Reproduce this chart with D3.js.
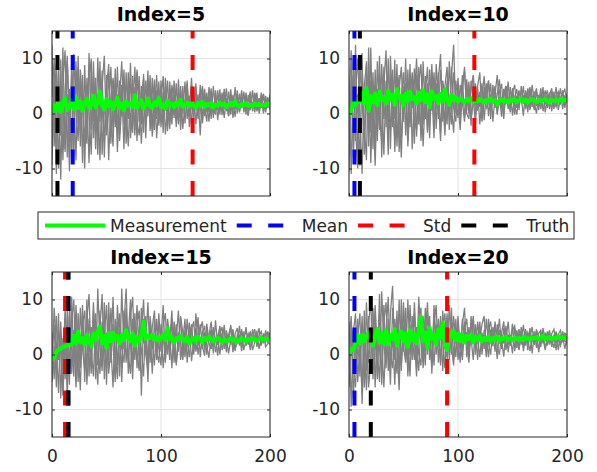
<!DOCTYPE html>
<html>
<head>
<meta charset="utf-8">
<script src="https://cdn.jsdelivr.net/npm/d3@7"></script>
<style>
  html, body { margin: 0; padding: 0; background: #fff; }
  svg { display: block; font-family: "DejaVu Sans", sans-serif; }
</style>
</head>
<body>
<svg id="chart" width="597" height="472"></svg>
<script>
// ---- Data -------------------------------------------------------------
// Samples are taken every 2 steps from 0 to 200.
const titles = ["Index=5", "Index=10", "Index=15", "Index=20"];
const meanAt  = [19, 5, 15, 5];
const stdAt   = [129, 115, 12, 90];
const truthAt = [5, 10, 15, 20];
const legendLabels = ["Measurement", "Mean", "Std", "Truth"];
const xTicks = [0, 100, 200];
const yTicks = [-10, 0, 10];

const measurement5 = [0.0,1.5,0.5,2.0,0.3,1.8,2.8,0.6,1.2,2.5, 0.8,3.0,1.0,2.2,0.5,1.9,2.7,0.9,1.6,3.2,
  1.1,2.0,4.0,1.5,0.7,2.6,1.3,2.1,0.8,1.7, 2.9,1.0,1.8,0.6,2.2,1.4,1.9,1.2,3.3,1.0,
  1.7,2.4,0.9,1.6,2.7,1.3,1.0,2.1,1.5,2.8, 1.2,1.7,0.9,2.3,1.4,1.8,1.1,2.0,1.5,2.5,
  1.2,1.6,2.0,1.3,1.8,1.5,1.0,1.9,1.4,2.1, 1.2,1.7,1.5,1.9,1.1,1.6,1.4,2.0,1.5,1.8,
  1.2,1.6,1.9,1.4,2.2,1.5,1.3,1.7,1.5,1.9, 1.4,1.6,1.3,1.8,1.5,1.7,1.4,1.6,1.5,1.8, 1.6];
const runs5 = [
  [12.5,-6.0,8.2,-3.5,9.8,-8.5,4.0,10.5,-5.2,7.0, -7.8,9.5,-2.0,6.5,-9.0,8.8,-4.5,11.0,-3.0,5.5,
   -6.5,10.2,-1.5,7.8,-8.0,4.5,9.0,-5.5,6.0,-2.5, 8.5,-4.0,5.2,-6.5,7.5,-1.0,9.2,-3.5,4.8,-5.0,
   6.8,-2.0,7.2,-4.5,5.5,-1.5,6.5,-3.0,4.2,-2.2, 6.0,-1.0,4.8,-3.2,5.8,0.0,4.5,-2.5,6.2,-0.8,
   5.0,-1.8,4.0,0.5,6.5,-1.2,3.8,-0.5,5.2,-1.5, 4.5,0.2,3.5,-1.0,5.0,0.5,4.2,-0.2,3.8,0.8,
   4.6,-0.5,3.2,0.5,4.8,0.0,3.6,1.0,4.0,-0.2, 3.4,0.6,4.2,0.2,3.0,0.8,3.8,0.4,3.2,1.0, 3.5],
  [-9.5,7.5,-11.0,5.5,-4.0,12.0,-7.0,3.5,-10.5,9.0, 2.0,-8.5,10.5,-3.5,7.0,-6.0,3.0,-9.0,8.0,-1.5,
   6.5,-4.5,9.5,-7.5,2.5,-3.0,7.5,-1.0,-6.0,8.2, -3.5,6.0,-0.5,8.0,-5.5,4.0,-2.5,6.8,-4.0,7.5,
   -1.5,5.0,-3.5,6.0,-0.5,7.0,-2.8,4.5,-1.0,5.8, -2.5,4.0,0.5,6.0,-1.8,3.5,-0.8,5.5,-2.0,4.2,
   0.0,5.8,-1.0,3.2,-2.2,4.8,0.8,3.5,-4.0,4.4, -0.5,3.8,0.2,4.6,-0.8,3.2,0.6,4.4,-0.3,3.6,
   0.4,4.0,-0.2,3.4,0.8,4.2,0.2,3.0,0.6,3.8, 0.0,3.2,0.8,3.6,0.4,2.8,1.0,3.4,0.2,3.0, 0.6],
  [3.0,10.0,-5.5,8.5,-12.0,6.0,11.5,-8.0,4.5,-6.5, 10.8,0.5,-5.0,8.0,1.5,-10.0,6.5,0.0,-7.5,9.5,
   -2.0,3.5,-8.5,5.0,10.5,-4.0,0.5,8.5,-3.5,5.5, -7.0,3.0,9.5,-2.0,1.0,-6.0,5.5,2.0,-3.0,8.0,
   2.5,-5.5,3.8,0.5,7.8,-3.2,1.5,6.2,-4.5,2.0, 5.0,-3.5,6.5,1.0,-2.8,5.2,2.0,-1.5,3.8,-3.0,
   3.0,1.5,6.0,-2.5,2.2,0.0,5.5,-1.0,2.5,5.0, 1.2,-1.5,4.8,2.0,0.0,4.2,-1.2,2.8,1.5,4.5,
   1.8,-0.5,3.6,2.2,-0.6,3.0,1.5,4.2,0.2,2.6, 2.2,4.0,0.4,2.4,3.8,0.0,2.0,3.6,0.6,2.4, 1.8],
  [-4.0,2.5,9.0,-10.0,5.0,1.0,-6.5,9.5,0.0,-8.0, 5.0,3.5,8.5,-6.0,4.0,2.5,-5.5,6.0,10.0,-4.5,
   1.5,-7.5,4.0,1.0,-5.0,7.0,-8.5,2.5,6.5,-1.5, 3.5,-5.0,1.5,6.5,-2.5,7.5,-4.5,0.5,8.5,-1.5,
   -4.0,3.0,6.5,-2.0,2.0,4.8,-4.2,0.5,7.0,-1.8, 2.5,6.8,-3.8,1.0,4.0,-2.0,6.0,0.8,-1.5,5.0,
   -2.8,2.0,5.2,-0.5,1.5,4.0,-2.0,3.0,1.0,-1.8, 3.2,2.0,-1.5,4.0,1.0,-0.2,3.5,1.8,2.5,-0.8,
   2.8,1.2,4.4,-0.8,2.0,3.2,0.4,1.8,3.4,1.0, -0.4,2.6,1.4,3.8,0.6,2.2,3.0,0.0,2.8,1.4, 2.6]
];

const measurement10 = [-0.5,0.8,2.0,1.5,2.6,2.2,3.8,1.8,4.6,0.5, 3.2,2.0,3.6,1.5,4.0,2.4,3.0,1.8,4.2,2.5,
  3.4,1.6,4.4,2.8,3.2,1.5,3.6,2.2,4.0,2.6, 3.0,1.8,3.8,2.4,4.2,2.0,3.5,1.2,4.0,2.6,
  3.2,1.8,3.6,2.2,4.4,2.5,1.6,3.4,2.4,3.0, 2.2,2.7,2.4,2.0,2.6,2.3,2.8,2.1,2.5,2.2,
  2.6,2.3,2.0,2.5,2.2,2.7,2.1,2.4,1.6,2.3, 2.6,2.2,2.4,2.0,2.5,2.3,2.6,2.1,2.4,2.7,
  2.2,2.5,2.0,2.4,2.6,2.3,2.1,2.5,2.2,2.4, 2.6,2.2,2.0,2.5,2.3,2.4,2.2,2.6,2.3,2.5, 2.4];
const runs10 = [
  [-10.5,8.0,-6.0,12.5,-9.0,6.5,11.0,-7.5,9.5,-4.0, 12.0,-6.5,8.0,-3.0,10.5,-8.0,5.5,11.5,-4.5,7.0,
   -2.5,9.8,-6.0,4.5,8.5,-1.5,10.0,-5.0,6.0,1.0, 8.2,-4.2,5.5,9.0,-2.0,6.8,-3.5,8.0,0.5,7.5,
   -2.8,6.2,10.8,-1.5,5.0,8.5,-3.0,7.0,12.5,0.0, 6.5,-1.5,5.5,7.8,0.5,4.5,-2.2,6.8,1.5,5.0,
   7.5,-0.5,4.8,2.0,6.0,-1.0,5.2,1.0,3.5,6.2, 0.8,4.5,1.8,5.8,0.2,3.8,5.2,1.0,4.2,2.0,
   5.0,0.8,3.6,4.8,1.2,3.0,4.6,0.6,3.8,2.4, 4.2,1.0,3.4,4.6,0.8,3.2,4.0,1.6,3.6,4.4, 2.0],
  [6.0,-11.0,10.0,-5.0,3.5,-9.5,8.5,-2.0,-8.5,12.0, -3.5,7.5,-7.0,9.5,0.5,-5.5,8.5,-2.5,10.0,-6.5,
   6.5,-1.0,9.0,-7.0,3.0,7.5,-4.0,8.0,-2.5,5.5, -5.5,7.0,1.0,-3.0,9.5,-1.0,5.5,-4.5,7.5,2.0,
   5.5,-1.0,8.0,2.5,-4.0,6.0,1.5,-2.0,7.5,3.0, -0.8,5.2,2.0,-1.5,6.2,0.0,4.5,7.0,-0.5,3.8,
   1.2,5.5,-1.2,3.8,6.0,0.5,2.8,5.0,-0.2,4.0, 5.4,0.0,3.2,1.4,4.8,-0.4,3.0,4.4,0.6,5.0,
   1.8,3.8,0.2,4.4,2.6,0.6,4.0,2.0,4.6,0.4, 3.0,4.2,1.2,3.6,2.2,4.8,0.6,2.8,3.8,1.0, 3.6],
  [2.0,11.5,-8.0,4.0,10.0,0.0,-11.0,5.0,9.0,-6.0, 6.0,1.5,-9.5,4.5,-3.0,9.0,-1.0,3.5,-7.5,10.5,
   1.0,-4.5,6.5,0.5,-8.0,5.0,2.0,-3.5,9.0,-6.5, 3.0,10.0,-2.0,4.5,-6.0,3.5,8.5,-1.5,4.0,-4.5,
   9.0,2.5,-5.0,6.0,3.0,-2.0,9.5,1.0,-3.5,6.0, 2.2,-3.0,4.0,8.5,0.0,-1.0,6.0,2.5,-1.8,4.8,
   -2.0,3.0,6.8,0.8,2.0,5.5,-1.5,3.5,7.0,1.5, 3.0,-1.0,5.0,2.6,0.4,4.6,1.4,-0.2,4.0,2.8,
   -0.4,4.2,2.4,1.0,5.2,2.0,0.0,3.4,1.6,4.8, 0.2,2.6,3.8,0.4,4.0,1.8,2.4,4.6,0.8,3.2, 2.6],
  [-5.0,3.0,7.0,-3.0,-10.0,9.5,2.0,-4.5,1.5,7.0, -9.0,4.5,2.0,-5.0,7.0,3.5,-7.5,6.0,1.5,-3.0,
   8.0,-7.0,2.5,7.0,-4.5,1.0,5.5,-6.0,2.5,7.5, -1.0,-3.0,8.5,-5.0,2.0,5.5,-3.0,1.5,9.0,-1.0,
   1.0,7.5,-3.5,4.0,-1.5,5.5,-0.5,8.5,1.0,-1.5, 4.5,0.5,7.0,-0.8,3.0,5.8,-1.0,2.0,5.5,0.5,
   4.0,-1.5,2.5,5.5,-0.5,3.5,1.8,4.5,0.0,3.0, -0.6,3.6,5.0,0.8,2.4,4.2,-0.2,3.2,1.6,3.8,
   3.2,1.0,4.6,0.6,2.8,4.0,1.4,3.0,0.8,3.6, 1.6,3.4,0.8,4.0,2.0,1.2,3.6,2.2,4.2,1.4, 3.0]
];

const measurement15 = [-1.0,-0.6,0.5,0.8,1.0,1.4,1.5,1.6,2.8,1.8, 3.4,2.0,4.2,2.2,3.0,1.8,3.6,2.5,1.5,3.8,
  2.6,4.2,5.0,2.0,3.4,1.2,3.8,2.4,4.0,2.8, 3.4,2.0,3.6,2.6,4.4,3.0,2.4,3.8,1.6,3.2,
  2.4,3.6,6.0,2.8,3.4,3.0,3.6,2.6,3.2,2.5, 3.0,3.6,2.6,4.8,2.8,3.2,2.2,3.0,2.6,3.4,
  2.8,2.4,3.2,2.0,2.6,3.0,2.4,3.2,2.8,2.2, 3.0,2.6,3.2,2.8,2.4,2.8,3.0,2.6,2.2,2.8,
  2.4,2.6,3.0,2.5,2.8,2.2,2.6,3.0,2.7,2.4, 2.8,2.6,3.0,2.7,2.5,2.8,3.0,2.6,2.9,2.7, 2.8];
const runs15 = [
  [0.0,5.5,-6.0,7.5,-8.0,3.0,-4.5,8.0,-2.5,6.0, 10.0,-3.5,7.5,-1.0,9.0,-5.0,6.5,11.0,-2.0,8.0,
   -4.5,12.0,1.5,-3.0,9.5,-5.5,7.0,0.5,10.5,-2.5, 6.0,-4.0,12.0,1.0,8.5,-3.5,7.0,10.5,-1.0,5.5,
   8.0,-7.5,6.5,2.0,9.5,-1.5,5.0,8.0,-0.5,6.0, 3.0,9.0,-1.0,6.5,2.5,8.0,-1.5,5.5,0.5,7.0,
   4.0,-0.5,6.5,2.0,5.0,0.0,7.5,1.5,4.5,6.0, 0.8,5.6,2.4,4.6,0.2,6.2,1.8,3.8,5.0,1.0,
   4.4,2.2,5.4,0.8,3.8,4.8,1.6,4.2,2.6,5.0, 1.8,4.0,3.0,4.6,1.4,3.6,4.2,2.0,4.4,2.8, 4.0],
  [-2.5,8.5,2.0,-7.0,6.0,-3.0,8.5,0.5,-5.5,10.5, -1.5,6.0,-5.0,8.5,1.0,-3.0,10.0,-4.0,5.0,2.0,
   7.5,-2.0,5.0,11.0,-4.5,4.0,-1.0,8.5,2.0,-5.0, 9.0,2.5,-2.5,5.5,12.0,0.0,-3.5,6.5,2.0,9.0,
   -1.5,4.0,10.0,0.0,-3.0,7.0,2.5,-2.0,6.5,1.0, -2.0,5.5,7.5,0.0,4.0,-2.5,6.0,3.0,8.0,-1.0,
   2.5,6.5,-1.5,3.5,5.5,0.5,3.0,6.8,-0.5,4.0, 5.2,0.0,3.4,6.0,1.2,3.0,-0.2,4.8,2.2,5.4,
   1.0,3.6,5.0,0.4,3.2,2.0,5.2,1.2,3.4,4.0, 3.2,0.8,4.6,2.4,3.0,4.8,1.6,3.4,2.2,4.2, 2.6],
  [4.0,-4.5,7.0,-1.0,2.5,-6.5,5.5,-8.0,9.0,-3.5, 4.5,-6.0,2.5,-2.5,5.5,8.0,-5.5,3.0,-3.5,9.5,
   0.0,-5.5,8.0,-2.0,3.5,9.0,-3.5,1.5,-6.0,6.5, -2.0,4.5,-5.0,8.0,-1.5,5.0,2.0,-4.5,7.5,-2.5,
   5.0,1.0,-4.0,7.0,-2.0,4.5,-3.5,6.5,0.5,-1.5, 5.5,-2.5,2.0,4.5,-1.0,6.5,0.5,-1.5,4.0,2.0,
   -1.0,3.5,1.5,5.8,-1.2,2.5,4.8,0.0,3.0,1.0, 4.0,1.6,-0.6,3.6,4.4,0.4,2.8,5.2,0.8,2.6,
   3.2,0.2,2.6,4.6,1.0,2.4,3.6,0.6,4.2,1.6, 2.8,4.2,0.8,2.2,3.8,1.2,2.6,3.6,1.4,2.0, 3.4],
  [-5.0,1.5,-3.0,4.5,1.0,-7.5,2.0,-1.5,7.0,1.0, -4.0,9.0,1.5,-6.5,7.0,2.5,-2.0,6.5,1.0,-4.0,
   6.0,2.5,-3.5,6.0,1.0,-2.5,9.5,-1.5,5.5,0.5, -4.5,7.5,1.0,-1.5,6.0,3.5,10.0,-2.0,4.0,0.0,
   -3.0,8.5,2.0,4.5,-5.0,6.0,1.0,3.5,-1.0,7.5, 0.5,3.5,-1.5,6.0,1.0,3.0,5.0,-2.0,2.5,6.5,
   0.0,4.5,2.5,-0.5,4.5,6.0,0.5,3.0,5.5,1.5, -0.2,4.4,2.0,1.0,5.0,2.4,3.6,0.0,3.8,4.6,
   0.4,3.0,1.8,4.4,0.6,3.6,2.8,4.6,0.8,2.8, 3.8,1.4,2.2,3.4,4.2,1.0,3.2,2.4,4.0,2.2, 1.8]
];

const measurement20 = [0.2,1.0,0.8,2.0,3.5,2.0,3.6,2.4,3.2,4.0, 2.6,1.6,3.4,4.6,2.2,3.8,2.0,4.4,1.8,3.6,
  2.8,4.6,1.6,3.4,4.2,2.4,3.8,1.4,4.4,2.6, 3.8,2.0,4.2,6.8,2.4,4.0,1.2,4.8,2.8,3.6,
  1.8,4.6,3.0,5.8,2.2,0.8,4.0,3.2,4.2,2.6, 3.8,2.4,3.6,2.2,3.4,2.8,3.6,2.2,3.2,2.6,
  3.4,2.4,3.0,2.6,3.2,2.4,3.0,2.7,3.3,2.5, 3.0,2.8,3.2,2.6,3.0,2.7,3.1,2.8,3.0,2.6,
  3.2,2.8,3.0,2.7,3.1,2.9,3.2,2.7,3.0,3.4, 2.8,3.0,3.2,2.8,3.1,2.9,3.3,2.9,3.1,3.0, 3.0];
const runs20 = [
  [6.0,-9.5,4.0,7.5,-5.0,2.0,-7.0,8.0,-3.0,5.5, 10.0,-4.5,7.0,-2.0,11.0,-5.5,6.0,9.5,-3.0,7.5,
   12.5,-1.0,8.0,-4.5,10.0,0.5,6.5,-3.0,9.0,1.5, 7.5,-2.5,10.5,3.0,-1.5,8.5,0.0,7.0,-3.5,9.0,
   2.0,6.5,-2.0,8.0,1.0,7.5,-1.0,6.0,3.5,-0.5, 7.0,1.0,5.5,8.5,-0.5,5.0,2.0,7.0,0.0,6.0,
   2.5,5.5,7.0,0.5,4.5,6.0,1.5,5.0,3.0,6.5, 1.0,4.8,2.4,6.0,1.6,4.4,5.2,1.2,4.0,2.6,
   5.4,1.6,4.0,3.0,5.0,1.8,4.4,3.2,1.4,4.8, 2.4,4.2,1.8,3.8,4.6,2.0,3.6,4.4,2.2,3.8, 3.6],
  [-3.0,5.5,-8.0,1.0,6.5,-4.0,7.0,-6.0,9.5,-1.5, 3.5,8.5,-6.0,5.0,1.0,-4.0,9.0,-1.5,4.0,-5.5,
   8.5,2.0,-3.5,10.0,-2.0,4.5,8.5,-4.0,5.5,-1.0, 9.5,1.0,-3.0,6.0,4.0,-2.0,7.5,2.5,-1.5,5.5,
   9.0,-1.5,4.5,2.0,-2.5,6.5,2.0,8.5,-1.0,5.0, 3.0,-1.5,6.5,2.5,4.0,-0.5,7.0,2.5,5.0,-1.0,
   5.0,1.5,3.5,-0.5,6.5,2.0,4.0,0.5,5.5,2.0, 4.0,6.0,0.8,3.6,2.2,5.6,0.6,3.2,4.6,1.8,
   3.0,4.6,0.8,3.6,2.4,4.2,1.2,3.8,4.4,2.0, 4.0,1.6,3.4,2.6,1.2,3.8,2.6,1.6,4.2,2.4, 2.2],
  [2.0,7.0,-2.5,-6.0,3.5,7.5,-9.0,2.5,4.0,-6.0, -1.0,6.0,3.0,-4.5,7.5,2.5,-6.0,4.0,10.5,-2.0,
   3.5,-5.5,6.0,4.0,-3.0,9.5,-1.0,3.0,-4.0,7.0, 2.5,-4.0,6.5,8.5,-2.5,3.5,9.5,-1.0,4.0,-2.0,
   5.5,1.5,7.0,-3.0,4.0,-0.5,9.0,1.5,-2.0,6.5, -1.0,4.0,0.5,6.0,2.0,-1.5,4.5,6.5,0.5,3.0,
   -0.5,4.0,1.0,6.5,2.0,0.0,5.0,3.5,-0.8,4.5, 2.6,-0.4,4.4,1.8,3.0,0.2,4.8,2.4,1.0,5.0,
   0.6,3.4,2.0,4.8,0.2,3.6,2.6,1.0,4.0,3.0, 0.8,3.2,4.4,1.4,3.0,4.2,0.8,3.4,2.6,4.0, 1.8],
  [-6.0,1.5,4.5,-3.0,1.0,-1.5,5.5,1.0,-6.5,7.0, -3.5,1.0,9.0,0.5,-5.0,11.5,2.0,-2.5,6.5,0.0,
   -2.5,6.5,1.5,-6.5,7.0,1.5,-1.5,10.0,0.0,3.5, -1.0,5.0,0.0,-2.0,7.0,0.5,4.5,5.0,-2.5,7.5,
   0.0,3.5,-1.5,5.0,7.5,-1.0,4.5,0.0,7.0,2.0, 5.0,2.5,-1.0,4.5,6.5,1.0,3.0,-1.0,5.5,2.5,
   6.0,0.0,4.5,3.0,-0.5,4.5,2.5,6.0,1.5,0.0, 3.8,2.0,5.2,0.4,3.4,2.8,1.2,4.4,0.8,3.6,
   1.4,4.4,2.6,0.6,3.6,1.8,4.6,0.4,2.6,3.6, 1.2,2.8,4.0,1.8,3.6,0.8,3.8,1.8,3.4,1.0, 3.2]
];

const measurements = [measurement5, measurement10, measurement15, measurement20];
const runs = [runs5, runs10, runs15, runs20];
const sampleStep = 2;

// ---- Layout -------------------------------------------------------------
const svg = d3.select("#chart");
const W = 218, H = 165;
const colLeft = [52, 349];
const rowTop = [31, 272];
const titleBaseline = [21, 264];
const axisColor = "#262626";
const fontSize = 17;

const x = d3.scaleLinear().domain([0, 200]).range([0, W]);
const y = d3.scaleLinear().domain([-15, 15]).range([H, 0]);

// plain hyphen for negative tick labels
const tickText = d => String(d);

const trace = d3.line()
  .x((d, k) => x(k * sampleStep))
  .y(d => y(d));

const markers = [
  { values: meanAt,  color: "#0000ff" },
  { values: stdAt,   color: "#ff0000" },
  { values: truthAt, color: "#000000" }
];
const dash = "15,16.5";

svg.append("defs").append("clipPath").attr("id", "plotArea")
  .append("rect").attr("x", 0).attr("y", 0).attr("width", W).attr("height", H);

titles.forEach((title, i) => {
  const col = i % 2, row = Math.floor(i / 2);
  const g = svg.append("g")
    .attr("transform", `translate(${colLeft[col]},${rowTop[row]})`);

  // grid
  g.append("g").selectAll("line").data(xTicks).join("line")
    .attr("x1", d => x(d)).attr("x2", d => x(d))
    .attr("y1", 0).attr("y2", H)
    .attr("stroke", "#e3e3e3").attr("stroke-width", 1);
  g.append("g").selectAll("line").data(yTicks).join("line")
    .attr("x1", 0).attr("x2", W)
    .attr("y1", d => y(d)).attr("y2", d => y(d))
    .attr("stroke", "#e3e3e3").attr("stroke-width", 1);

  const plot = g.append("g").attr("clip-path", "url(#plotArea)");

  // individual runs
  plot.append("g").selectAll("path").data(runs[i]).join("path")
    .attr("d", trace)
    .attr("fill", "none")
    .attr("stroke", "#808080")
    .attr("stroke-width", 1.3);

  // measurement
  plot.append("path")
    .attr("d", trace(measurements[i]))
    .attr("fill", "none")
    .attr("stroke", "#00ff00")
    .attr("stroke-width", 4)
    .attr("stroke-linejoin", "round");

  // mean / std / truth markers
  markers.forEach(m => {
    plot.append("line")
      .attr("x1", x(m.values[i])).attr("x2", x(m.values[i]))
      .attr("y1", y(-15)).attr("y2", y(15))
      .attr("stroke", m.color)
      .attr("stroke-width", 4)
      .attr("stroke-dasharray", dash);
  });

  // axes (ticks point inward)
  const styleAxis = sel => {
    sel.select(".domain").remove();
    sel.selectAll(".tick line").attr("stroke", axisColor);
    sel.selectAll(".tick text").attr("fill", axisColor)
      .attr("font-size", fontSize)
      .attr("font-family", "DejaVu Sans, sans-serif");
  };
  g.append("g")
    .call(d3.axisLeft(y).tickValues(yTicks).tickSize(-3).tickPadding(9)
      .tickFormat(tickText))
    .call(styleAxis);
  g.append("g").attr("transform", `translate(${W},0)`)
    .call(d3.axisRight(y).tickValues(yTicks).tickSize(-3).tickFormat(""))
    .call(styleAxis);
  g.append("g")
    .call(d3.axisTop(x).tickValues(xTicks).tickSize(-3).tickFormat(""))
    .call(styleAxis);
  g.append("g").attr("transform", `translate(0,${H})`)
    .call(d3.axisBottom(x).tickValues(xTicks).tickSize(-3).tickPadding(13)
      .tickFormat(row === 1 ? tickText : ""))
    .call(styleAxis);

  // box
  g.append("rect")
    .attr("x", 0).attr("y", 0).attr("width", W).attr("height", H)
    .attr("fill", "none").attr("stroke", axisColor).attr("stroke-width", 1);

  // title
  svg.append("text")
    .attr("x", colLeft[col] + W / 2)
    .attr("y", titleBaseline[row])
    .attr("text-anchor", "middle")
    .attr("font-size", 19)
    .attr("font-weight", "bold")
    .attr("fill", "#000")
    .text(title);
});

// ---- Legend -----------------------------------------------------------
const legendColors = ["#00ff00", "#0000ff", "#ff0000", "#000000"];
const legendBox = { x: 38, y: 212, w: 536, h: 27 };
const legend = svg.append("g");
legend.append("rect")
  .attr("x", legendBox.x).attr("y", legendBox.y)
  .attr("width", legendBox.w).attr("height", legendBox.h)
  .attr("fill", "#fff").attr("stroke", axisColor).attr("stroke-width", 1);

let cursor = legendBox.x + 7;
const midY = legendBox.y + legendBox.h / 2;
legendLabels.forEach((label, k) => {
  legend.append("line")
    .attr("x1", cursor).attr("x2", cursor + 60)
    .attr("y1", midY).attr("y2", midY)
    .attr("stroke", legendColors[k])
    .attr("stroke-width", 4)
    .attr("stroke-dasharray", k === 0 ? null : dash);
  const t = legend.append("text")
    .attr("x", cursor + 65)
    .attr("y", midY + 6)
    .attr("font-size", fontSize)
    .attr("fill", axisColor)
    .text(label);
  cursor += 65 + t.node().getComputedTextLength() + 10;
});
</script>
</body>
</html>
